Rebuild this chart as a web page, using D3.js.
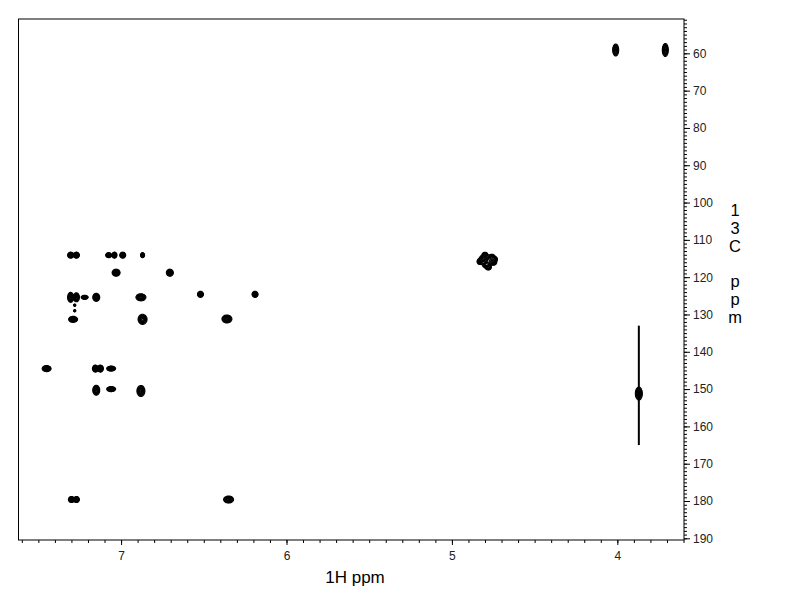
<!DOCTYPE html>
<html>
<head>
<meta charset="utf-8">
<script src="https://cdn.jsdelivr.net/npm/d3@7"></script>
<style>
  html, body { margin: 0; padding: 0; background: #fff; }
  svg { display: block; font-family: "Liberation Sans", Arial, sans-serif; }
</style>
</head>
<body>
<svg id="chart" width="792" height="612"></svg>
<script>
// ---- data (ppm) ----
const peakH  = [7.305, 7.270, 7.075, 7.040, 6.990, 6.870,
                7.030, 6.705,
                7.305, 7.270, 7.220, 7.150, 6.880, 6.520, 6.190,
                7.280, 7.280,
                7.290, 6.870, 6.360,
                7.450, 7.155, 7.125, 7.060,
                7.150, 7.060, 6.880,
                7.300, 7.270, 6.350,
                4.810, 4.760, 4.790, 4.750, 4.780, 4.830, 4.740, 4.780, 4.800,
                4.010, 3.710,
                3.870];
const peakC  = [114.1, 114.1, 114.1, 114.1, 114.1, 114.1,
                118.8, 118.8,
                125.4, 125.4, 125.4, 125.4, 125.4, 124.6, 124.6,
                127.5, 129.0,
                131.3, 131.3, 131.2,
                144.5, 144.5, 144.5, 144.5,
                150.3, 150.0, 150.5,
                179.6, 179.6, 179.6,
                115.0, 114.8, 116.6, 116.0, 115.6, 115.8, 115.2, 117.4, 114.0,
                59.1, 59.1,
                151.2];
const peakWH = [0.036, 0.036, 0.036, 0.030, 0.036, 0.024,
                0.048, 0.042,
                0.036, 0.036, 0.042, 0.042, 0.060, 0.036, 0.036,
                0.012, 0.012,
                0.054, 0.054, 0.060,
                0.054, 0.036, 0.036, 0.054,
                0.042, 0.054, 0.048,
                0.036, 0.036, 0.060,
                0.048, 0.048, 0.054, 0.042, 0.048, 0.036, 0.030, 0.036, 0.036,
                0.036, 0.036,
                0.042];
const peakWC = [1.61, 1.61, 1.34, 1.61, 1.61, 1.34,
                1.88, 1.88,
                2.68, 2.41, 1.07, 2.14, 1.88, 1.61, 1.61,
                0.54, 0.54,
                1.61, 2.68, 2.14,
                1.61, 1.88, 1.88, 1.34,
                2.68, 1.34, 2.95,
                1.61, 1.61, 1.88,
                1.88, 1.88, 1.88, 1.61, 2.14, 1.61, 1.34, 1.34, 1.34,
                3.22, 3.49,
                3.49];
const streakH = 3.870;
const streakC = [133.0, 165.0];

const xMajorTicks = [7, 6, 5, 4];
const yMajorTicks = [60, 70, 80, 90, 100, 110, 120, 130, 140, 150, 160, 170, 180, 190];
const xLabel = "1H ppm";
const yLabel = ["1", "3", "C", "", "p", "p", "m"];

// ---- layout ----
const X0 = 18.5, X1 = 684, Y0 = 19, Y1 = 540;
const svg = d3.select("#chart");
const x = d3.scaleLinear().domain([7.62, 3.597]).range([X0, X1]);
const y = d3.scaleLinear().domain([50.8, 190.45]).range([Y0, Y1]);

// ---- contour grid from peaks ----
const S = 2;
const nx = Math.ceil((X1 - X0) * S), ny = Math.ceil((Y1 - Y0) * S);
const grid = new Float64Array(nx * ny);
const OUTER = 0.06, K = Math.sqrt(-2 * Math.log(OUTER));
peakH.forEach((h, k) => {
  const cx = (x(h) - X0) * S, cy = (y(peakC[k]) - Y0) * S;
  const wpx = Math.abs(x(h + peakWH[k] / 2) - x(h - peakWH[k] / 2)) * S;
  const hpx = Math.abs(y(peakC[k] + peakWC[k] / 2) - y(peakC[k] - peakWC[k] / 2)) * S;
  const sx = (wpx / 2) / K, sy = (hpx / 2) / K;
  const i0 = Math.max(0, Math.floor(cx - 4 * sx)), i1 = Math.min(nx - 1, Math.ceil(cx + 4 * sx));
  const j0 = Math.max(0, Math.floor(cy - 4 * sy)), j1 = Math.min(ny - 1, Math.ceil(cy + 4 * sy));
  for (let j = j0; j <= j1; j++) {
    const dy = (j + 0.5 - cy) / sy;
    for (let i = i0; i <= i1; i++) {
      const dx = (i + 0.5 - cx) / sx;
      grid[j * nx + i] += Math.exp(-0.5 * (dx * dx + dy * dy));
    }
  }
});
const levels = [0.06, 0.12, 0.2, 0.3, 0.42, 0.56, 0.72, 0.9];
const contours = d3.contours().size([nx, ny]).thresholds(levels)(grid);

const plot = svg.append("g").attr("transform", `translate(${X0},${Y0}) scale(${1 / S})`);
plot.selectAll("path").data(contours).join("path")
  .attr("d", d3.geoPath())
  .attr("fill", "none")
  .attr("stroke", "#000")
  .attr("stroke-width", 1.1 * S);

// t1 streak
svg.append("line")
  .attr("x1", x(streakH)).attr("x2", x(streakH))
  .attr("y1", y(streakC[0])).attr("y2", y(streakC[1]))
  .attr("stroke", "#000").attr("stroke-width", 2);

// ---- frame ----
svg.append("rect").attr("x", X0).attr("y", Y0)
  .attr("width", X1 - X0).attr("height", Y1 - Y0)
  .attr("fill", "none").attr("stroke", "#000").attr("stroke-width", 1);

// ---- axes ----
const xMinor = d3.range(36, 77).map(d => d / 10).filter(d => d >= 3.6 && d <= 7.62);
svg.append("g").attr("transform", `translate(0,${Y1})`)
  .call(d3.axisBottom(x).tickValues(xMinor).tickSize(3).tickFormat(""))
  .call(g => g.select(".domain").remove());
svg.append("g").attr("transform", `translate(0,${Y1})`)
  .call(d3.axisBottom(x).tickValues(xMajorTicks).tickSize(5).tickPadding(6).tickFormat(d3.format("d")))
  .call(g => g.select(".domain").remove())
  .call(g => g.selectAll("text").attr("font-size", 12).attr("fill", "#222")
    .attr("font-family", "'Liberation Sans', Arial, sans-serif"));

const yMinor = d3.range(51, 191);
svg.append("g").attr("transform", `translate(${X1},0)`)
  .call(d3.axisRight(y).tickValues(yMinor).tickSize(3).tickFormat(""))
  .call(g => g.select(".domain").remove());
svg.append("g").attr("transform", `translate(${X1},0)`)
  .call(d3.axisRight(y).tickValues(yMajorTicks).tickSize(6).tickPadding(3).tickFormat(d3.format("d")))
  .call(g => g.select(".domain").remove())
  .call(g => g.selectAll("text").attr("font-size", 12).attr("fill", "#222")
    .attr("font-family", "'Liberation Sans', Arial, sans-serif"));

// ---- labels ----
svg.append("text").attr("x", 355).attr("y", 583)
  .attr("text-anchor", "middle").attr("font-size", 17).text(xLabel);
svg.append("g").selectAll("text").data(yLabel).join("text")
  .attr("x", 735).attr("y", (d, i) => 216 + i * 17.8)
  .attr("text-anchor", "middle").attr("font-size", 16.5).text(d => d);
</script>
</body>
</html>
